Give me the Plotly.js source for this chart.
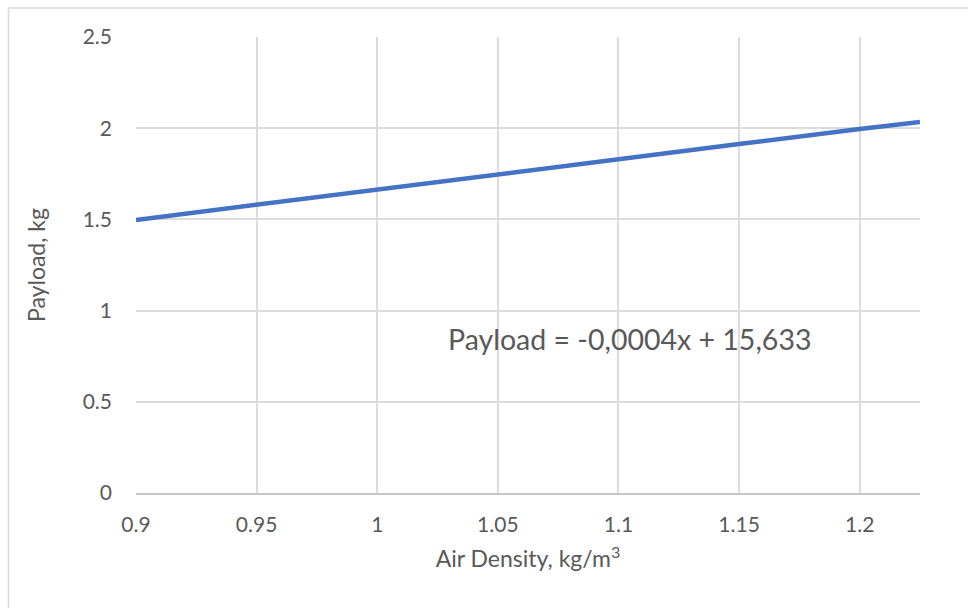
<!DOCTYPE html>
<html>
<head>
<meta charset="utf-8">
<script src="https://cdn.plot.ly/plotly-3.0.1.min.js"></script>
<style>
html,body{margin:0;padding:0;background:#fff;}
#chart{width:968px;height:608px;}
</style>
</head>
<body>
<div id="chart"></div>
<script>
const airDensity = [0.9, 0.95, 1.0, 1.05, 1.1, 1.15, 1.2, 1.225];
const payload = [1.497, 1.579, 1.661, 1.743, 1.831, 1.913, 1.996, 2.034];
const xTicks = [0.9, 0.95, 1, 1.05, 1.1, 1.15, 1.2];
const xTickLabels = ['0.9', '0.95', '1', '1.05', '1.1', '1.15', '1.2'];
const yTicks = [0, 0.5, 1, 1.5, 2, 2.5];
const yTickLabels = ['0', '0.5', '1', '1.5', '2', '2.5'];
const equationText = 'Payload = -0,0004x + 15,633';

const fontFam = 'Lato, Open Sans, Noto Sans, sans-serif';

const trace = {
  x: airDensity, y: payload, type: 'scatter', mode: 'lines',
  line: {color: '#4472C4', width: 4.5}, hoverinfo: 'skip', showlegend: false
};

const layout = {
  width: 968, height: 608,
  margin: {l: 136, r: 48, t: 37, b: 115},
  paper_bgcolor: '#fff', plot_bgcolor: '#fff',
  font: {family: fontFam, color: '#595959'},
  xaxis: {
    range: [0.9, 1.225], tickvals: xTicks, ticktext: xTickLabels,
    showgrid: true, gridcolor: '#DCDCDC', gridwidth: 2,
    zeroline: false, showline: true, linecolor: '#C8C8C8', linewidth: 2,
    ticks: '', tickfont: {size: 21, color: '#595959'}, ticklabelstandoff: 12,
    title: {text: 'Air Density, kg/m<sup>3</sup>', font: {size: 23, color: '#595959'}, standoff: 16}
  },
  yaxis: {
    range: [0, 2.5], tickvals: yTicks, ticktext: yTickLabels,
    showgrid: true, gridcolor: '#DCDCDC', gridwidth: 2,
    zeroline: false, showline: false,
    ticks: '', tickfont: {size: 21, color: '#595959'}, ticklabelstandoff: 23,
    title: {text: 'Payload, kg', font: {size: 23, color: '#595959'}, standoff: 30}
  },
  annotations: [{
    xref: 'paper', yref: 'paper', x: 0.395, y: 0.338, xanchor: 'left', yanchor: 'middle',
    text: equationText, showarrow: false, font: {size: 28.5, color: '#595959', family: fontFam}
  }],
  shapes: [
    {type: 'line', xref: 'paper', yref: 'paper', x0: -0.1626, x1: 1.1, y0: 1.0636, y1: 1.0636, line: {color: '#D9D9D9', width: 1.5}},
    {type: 'line', xref: 'paper', yref: 'paper', x0: -0.1626, x1: -0.1626, y0: -0.3, y1: 1.0636, line: {color: '#D9D9D9', width: 1.5}}
  ]
};

Plotly.newPlot('chart', [trace], layout, {displayModeBar: false, staticPlot: true});
</script>
</body>
</html>
